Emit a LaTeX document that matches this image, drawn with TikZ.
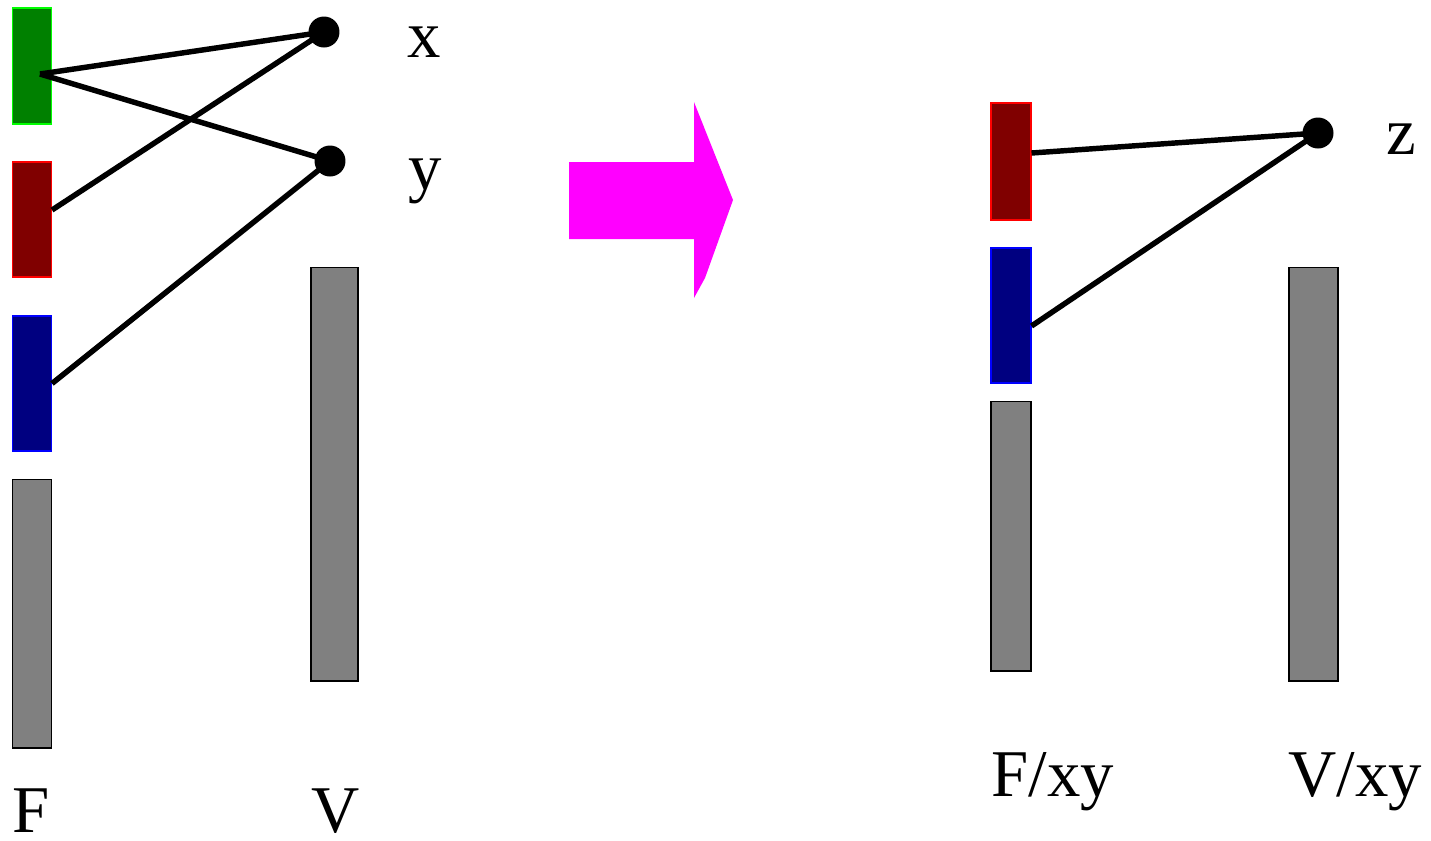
\documentclass[tikz,border=0pt]{standalone}
\usepackage{fontspec}
\setmainfont{Liberation Serif}
\definecolor{arrowmag}{RGB}{255,0,255}
\definecolor{barG}{RGB}{0,128,0}
\definecolor{barGline}{RGB}{0,255,0}
\definecolor{barR}{RGB}{128,0,0}
\definecolor{barB}{RGB}{0,0,128}
\definecolor{barGray}{RGB}{128,128,128}
\begin{document}
\begin{tikzpicture}[x=0.02cm,y=-0.02cm,
  bar/.style={draw, inner sep=0pt, line width=0.6pt},
  dot/.style={circle, fill=black, inner sep=0pt, minimum size=0.62cm},
  lbl/.style={inner sep=0pt, anchor=base west, font=\fontsize{38}{40}\selectfont},
  link/.style={line width=3.1pt}]
\useasboundingbox (0,0) rectangle (1431,840);
% left side
\node[bar, fill=barG, draw=barGline, minimum width=0.78cm, minimum height=2.32cm] (g) at (32,66) {};
\node[bar, fill=barR, draw=red, minimum width=0.78cm, minimum height=2.30cm] (r) at (32,219.5) {};
\node[bar, fill=barB, draw=blue, minimum width=0.78cm, minimum height=2.70cm] (b) at (32,383.5) {};
\node[bar, fill=barGray, minimum width=0.78cm, minimum height=5.38cm] (gf) at (32,613.5) {};
\node[bar, fill=barGray, minimum width=0.94cm, minimum height=8.28cm] (gv) at (334.5,474) {};
\node[dot] (x) at (324,32) {};
\node[dot] (y) at (330,161) {};
\node[lbl] (xl) at (407,57) {x};
\node[lbl] (yl) at (408,189) {y};
\node[lbl] (fl) at (12,832) {F};
\node[lbl] (vl) at (311,832) {V};
\draw[link] ([shift={(8,8)}]g.center) -- (x.center);
\draw[link] ([shift={(8,8)}]g.center) -- (y.center);
\draw[link] ([yshift=9.5*0.02cm]r.east) -- (x.center);
\draw[link] (b.east) -- (y.center);
% arrow
\fill[arrowmag] (569,162) -- (694,162) -- (694,102) -- (733,200) -- (705,278) -- (694,298) -- (694,239) -- (569,239) -- cycle;
% right side
\node[bar, fill=barR, draw=red, minimum width=0.80cm, minimum height=2.34cm] (r2) at (1011,161.5) {};
\node[bar, fill=barB, draw=blue, minimum width=0.80cm, minimum height=2.70cm] (b2) at (1011,315.5) {};
\node[bar, fill=barGray, minimum width=0.80cm, minimum height=5.40cm] (gf2) at (1011,536) {};
\node[bar, fill=barGray, minimum width=0.98cm, minimum height=8.28cm] (gv2) at (1313.5,474) {};
\node[dot] (z) at (1318,133) {};
\node[lbl] (zl) at (1386,154) {z};
\node[lbl] (fl2) at (991,796) {F/xy};
\node[lbl] (vl2) at (1288,796) {V/xy};
\draw[link] ([yshift=8.5*0.02cm]r2.east) -- (z.center);
\draw[link] ([yshift=-10.5*0.02cm]b2.east) -- (z.center);
\end{tikzpicture}
\end{document}
